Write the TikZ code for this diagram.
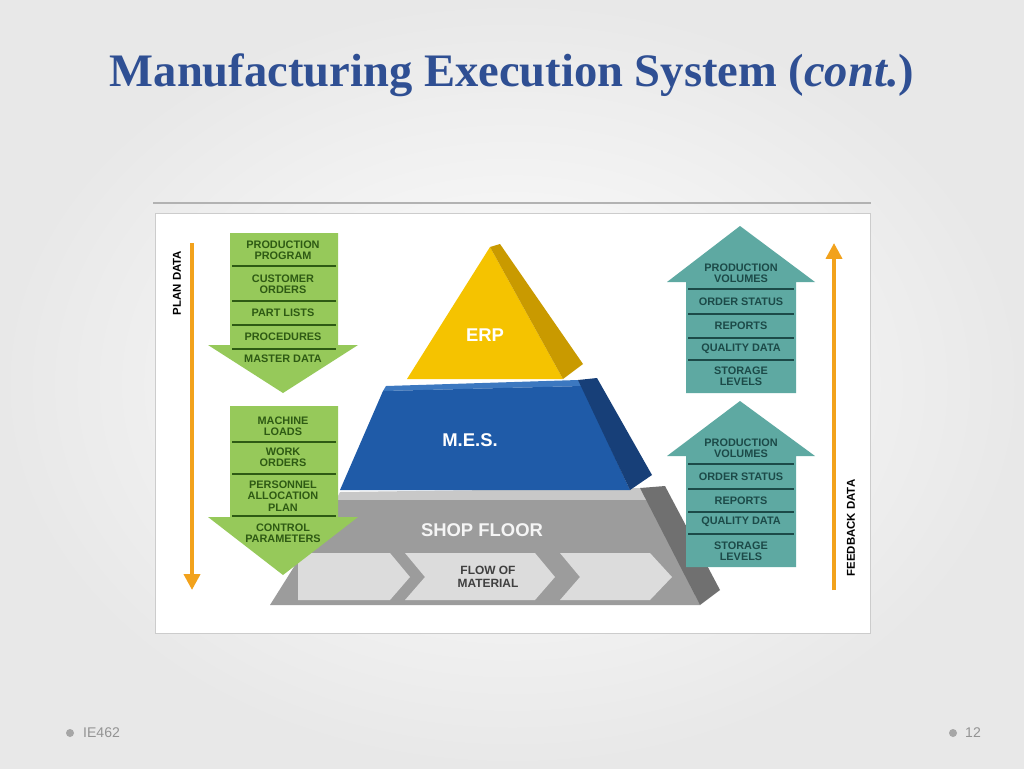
\documentclass[tikz,border=0pt]{standalone}
\usepackage{fontspec}
\setmainfont{Liberation Serif}
\setsansfont{Liberation Sans}
\usetikzlibrary{arrows.meta}

\definecolor{titleblue}{HTML}{2F4F93}
\definecolor{erpyel}{HTML}{F5C300}
\definecolor{erpside}{HTML}{C99A00}
\definecolor{mesblue}{HTML}{1F5BA8}
\definecolor{messide}{HTML}{173F78}
\definecolor{mestop}{HTML}{3C78C0}
\definecolor{shopgray}{HTML}{9C9C9C}
\definecolor{shopside}{HTML}{707070}
\definecolor{shoptop}{HTML}{C8C8C8}
\definecolor{flowgray}{HTML}{DCDCDC}
\definecolor{planorange}{HTML}{F2A21C}
\definecolor{leafgreen}{HTML}{96C95A}
\definecolor{leafdark}{HTML}{2E5A14}
\definecolor{tealbox}{HTML}{5EA9A2}
\definecolor{tealdark}{HTML}{1C4A48}

\tikzset{
  lbl/.style={font=\sffamily\bfseries\fontsize{6.2}{6.4}\selectfont, align=center, inner sep=0pt},
  plbl/.style={lbl, text=leafdark},
  flbl/.style={lbl, text=tealdark},
  big/.style={font=\sffamily\bfseries\fontsize{10.5}{11}\selectfont, text=white, inner sep=0pt},
  sep/.style={line width=0.8pt},
}

\begin{document}
\begin{tikzpicture}[x=0.02cm, y=-0.02cm]
    % slide background
    \shade[inner color=white, outer color=gray!18] (0,0) rectangle (1024,768);
    \useasboundingbox (0,0) rectangle (1024,768);

    \node (title) at (512,75) {\fontsize{26.5}{30}\selectfont\bfseries\color{titleblue}Manufacturing Execution System (\textit{cont.})};
    \draw[gray!60, line width=0.6pt] (153,203) -- (871,203);
    \draw[gray!40, fill=white] (155,213) rectangle (870,633);

    % pyramid
    \fill[shoptop] (340,492) -- (640,488) -- (648,500) -- (336,500) -- cycle;
    \fill[shopgray] (336,500) -- (648,500) -- (700,605) -- (270,605) -- cycle;
    \fill[shopside] (640,488) -- (665,486) -- (720,590) -- (700,605) -- cycle;
    \node[big, text=white!92!gray] (shop) at (482,530) {SHOP FLOOR};
    \fill[flowgray] (298,553) -- (390,553) -- (410,577) -- (390,600) -- (298,600) -- cycle;
    \fill[flowgray] (405,553) -- (535,553) -- (555,577) -- (535,600) -- (405,600) -- (425,577) -- cycle;
    \fill[flowgray] (560,553) -- (650,553) -- (672,577) -- (650,600) -- (560,600) -- (580,577) -- cycle;
    \node[lbl, text=black!75, font=\sffamily\bfseries\fontsize{6.8}{7.2}\selectfont] (flow) at (488,577) {FLOW OF\\MATERIAL};

    \fill[mestop] (386,386) -- (578,380) -- (582,386) -- (383,391) -- cycle;
    \fill[mesblue] (383,391) -- (582,386) -- (630,490) -- (340,490) -- cycle;
    \fill[messide] (578,380) -- (597,378) -- (652,475) -- (630,490) -- cycle;
    \node[big] (mes) at (470,440) {M.E.S.};

    \fill[erpyel] (490,247) -- (563,379) -- (407,379) -- cycle;
    \fill[erpside] (490,247) -- (500,244) -- (583,364) -- (563,379) -- cycle;
    \node[big] (erp) at (485,335) {ERP};

    % plan data
    \draw[planorange, line width=2.2pt, -{Triangle[width=9pt,length=9pt]}] (192,243) -- (192,590);
    \node[lbl, rotate=90, font=\sffamily\bfseries\fontsize{6.5}{7}\selectfont] (plan) at (177,283) {PLAN DATA};

    \fill[leafgreen] (230,233) -- (338,233) -- (338,345) -- (358,345) -- (283,393) -- (208,345) -- (230,345) -- cycle;
    \foreach \y in {266,301,325,349} \draw[sep, leafdark] (232,\y) -- (336,\y);
    \node[plbl] (pp) at (283,250) {PRODUCTION\\PROGRAM};
    \node[plbl] (co) at (283,284) {CUSTOMER\\ORDERS};
    \node[plbl] (pl) at (283,313) {PART LISTS};
    \node[plbl] (pr) at (283,337) {PROCEDURES};
    \node[plbl] (md) at (283,359) {MASTER DATA};

    \fill[leafgreen] (230,406) -- (338,406) -- (338,517) -- (358,517) -- (283,575) -- (208,517) -- (230,517) -- cycle;
    \foreach \y in {442,474,516} \draw[sep, leafdark] (232,\y) -- (336,\y);
    \node[plbl] (ml) at (283,426) {MACHINE\\LOADS};
    \node[plbl] (wo) at (283,457) {WORK\\ORDERS};
    \node[plbl] (pa) at (283,496) {PERSONNEL\\ALLOCATION\\PLAN};
    \node[plbl] (cp) at (283,533) {CONTROL\\PARAMETERS};

    % feedback data
    \fill[tealbox] (740,226) -- (815,282) -- (796,282) -- (796,393) -- (686,393) -- (686,282) -- (667,282) -- cycle;
    \foreach \y in {289,314,338,360} \draw[sep, tealdark] (688,\y) -- (794,\y);
    \node[flbl] (pv1) at (741,273) {PRODUCTION\\VOLUMES};
    \node[flbl] (os1) at (741,302) {ORDER STATUS};
    \node[flbl] (re1) at (741,326) {REPORTS};
    \node[flbl] (qd1) at (741,349) {QUALITY DATA};
    \node[flbl] (sl1) at (741,376) {STORAGE\\LEVELS};

    \fill[tealbox] (740,401) -- (815,456) -- (796,456) -- (796,567) -- (686,567) -- (686,456) -- (667,456) -- cycle;
    \foreach \y in {464,489,512,534} \draw[sep, tealdark] (688,\y) -- (794,\y);
    \node[flbl] (pv2) at (741,448) {PRODUCTION\\VOLUMES};
    \node[flbl] (os2) at (741,477) {ORDER STATUS};
    \node[flbl] (re2) at (741,501) {REPORTS};
    \node[flbl] (qd2) at (741,522) {QUALITY DATA};
    \node[flbl] (sl2) at (741,551) {STORAGE\\LEVELS};

    \draw[planorange, line width=2.2pt, -{Triangle[width=9pt,length=9pt]}] (834,590) -- (834,243);
    \node[lbl, rotate=90, font=\sffamily\bfseries\fontsize{6.5}{7}\selectfont] (feed) at (851,528) {FEEDBACK DATA};

    % footer
    \fill[gray!70] (70,733) circle (4);
    \node[anchor=west, text=gray!85, font=\sffamily\fontsize{8}{9}\selectfont] (course) at (77,733) {IE462};
    \fill[gray!70] (953,733) circle (4);
    \node[anchor=west, text=gray!85, font=\sffamily\fontsize{8}{9}\selectfont] (page) at (959,733) {12};
\end{tikzpicture}
\end{document}
